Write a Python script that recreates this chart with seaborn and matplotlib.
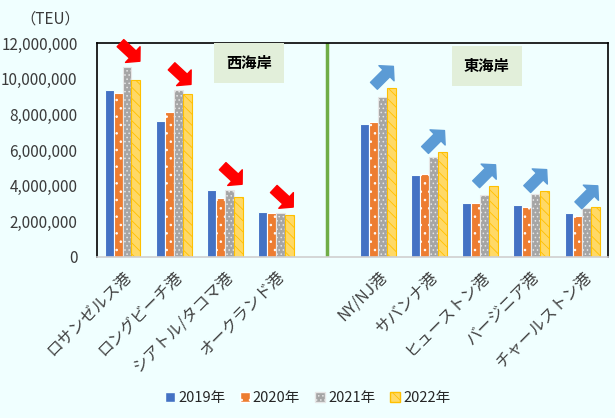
import pandas as pd
import numpy as np
import matplotlib
matplotlib.use('Agg')
import matplotlib.pyplot as plt
import seaborn as sn
from matplotlib.patches import Patch
from matplotlib.ticker import FuncFormatter

# data (TEU)
west_ports = ['ロサンゼルス港', 'ロングビーチ港', 'シアトル/タコマ港', 'オークランド港']
east_ports = ['NY/NJ港', 'サバンナ港', 'ヒューストン港', 'バージニア港', 'チャールストン港']
years = ['2019年', '2020年', '2021年', '2022年']
v2019 = [9340000, 7630000, 3780000, 2500000, 7470000, 4600000, 3000000, 2940000, 2440000]
v2020 = [9210000, 8110000, 3320000, 2460000, 7590000, 4680000, 3000000, 2810000, 2310000]
v2021 = [10680000, 9380000, 3740000, 2450000, 8990000, 5610000, 3450000, 3520000, 2750000]
v2022 = [9910000, 9130000, 3380000, 2340000, 9490000, 5890000, 3970000, 3700000, 2790000]

ports = west_ports + east_ports
order = west_ports + [' '] + east_ports
rows = []
for yr, vals in zip(years, [v2019, v2020, v2021, v2022]):
    for p, v in zip(ports, vals):
        rows.append({'port': p, 'year': yr, 'teu': v})
df = pd.DataFrame(rows)

BG = '#F0FFFF'
plt.rcParams['font.family'] = ['Noto Sans CJK JP', 'DejaVu Sans']
plt.rcParams['hatch.linewidth'] = 0.6

fig = plt.figure(figsize=(6.15, 4.18), dpi=100, facecolor=BG)
ax = fig.add_axes([0.1577, 0.3852, 0.8309, 0.5119])
ax.set_facecolor(BG)

sn.barplot(data=df, x='port', y='teu', hue='year', order=order, hue_order=years,
           width=0.7, ax=ax, legend=False, errorbar=None)

# styles per year: face, edge(hatch color), hatch
styles = [('#4472C4', BG, None),
          ('#ED7D31', 'white', '..'),
          ('#A5A5A5', '#E6E6E6', '....'),
          ('#FFD966', '#FFC000', '\\\\\\')]
for cont, (fc, ec, h) in zip(ax.containers, styles):
    for bar in cont:
        bar.set_facecolor(fc)
        bar.set_edgecolor(ec)
        bar.set_linewidth(0.8)
        if h:
            bar.set_hatch(h)

ax.set_xlim(-0.5, 9.5)
ax.set_ylim(0, 12000000)
ax.set_yticks(np.arange(0, 12000001, 2000000))
ax.yaxis.set_major_formatter(FuncFormatter(lambda v, p: f'{int(v):,}'))
ax.tick_params(axis='y', length=0, labelsize=11, labelcolor='#3b3b3b', pad=14)
ax.tick_params(axis='x', length=0, labelsize=11.5, labelcolor='#404040', pad=8)
ax.set_xticks(range(len(order)))
ax.set_xticklabels(order, rotation=45, ha='right', rotation_mode='anchor')
ax.set_xlabel('')
ax.set_ylabel('')

for s in ['top', 'right', 'left']:
    ax.spines[s].set_color('black')
    ax.spines[s].set_linewidth(1.2)
ax.spines['bottom'].set_color('#D0D0D0')
ax.spines['bottom'].set_linewidth(1.2)

# divider between coasts
ax.axvline(4, color='#70AD47', lw=2.5)

# coast labels
box = dict(boxstyle='square,pad=0.8', facecolor='#E2EFDA', edgecolor='none')
ax.text(0.297, 0.907, '西海岸', transform=ax.transAxes, ha='center', va='center',
        fontsize=11, fontweight='bold', bbox=box)
ax.text(0.763, 0.893, '東海岸', transform=ax.transAxes, ha='center', va='center',
        fontsize=11, fontweight='bold', bbox=box)

# trend arrows
tops = [max(a, b, c, d) for a, b, c, d in zip(v2019, v2020, v2021, v2022)]
astyle = 'simple,head_length=0.5,head_width=1.1,tail_width=0.5'
for i, top in enumerate(tops):
    xi = i if i < 4 else i + 1
    if i < 4:
        ax.annotate('', xy=(xi + 0.34, top + 300000), xytext=(-14, 13),
                    textcoords='offset points',
                    arrowprops=dict(arrowstyle=astyle, color='#FF0000', mutation_scale=14,
                                    shrinkA=0, shrinkB=0))
    else:
        ax.annotate('', xy=(xi + 0.3, top + 1200000), xytext=(-14, -14),
                    textcoords='offset points',
                    arrowprops=dict(arrowstyle=astyle, color='#5B9BD5', mutation_scale=14,
                                    shrinkA=0, shrinkB=0))

fig.text(0.033, 0.955, '（TEU）', fontsize=11, color='#3b3b3b', ha='left', va='center')

handles = [Patch(facecolor=fc, edgecolor=ec, hatch=h, label=yr)
           for (fc, ec, h), yr in zip(styles, years)]
fig.legend(handles=handles, loc='center', bbox_to_anchor=(0.5, 0.047), ncol=4,
           frameon=False, fontsize=10.5, handlelength=0.7, handleheight=0.7,
           handletextpad=0.2, columnspacing=1.0, labelcolor='#262626')

fig.savefig('out.png', dpi=100, facecolor=BG)
